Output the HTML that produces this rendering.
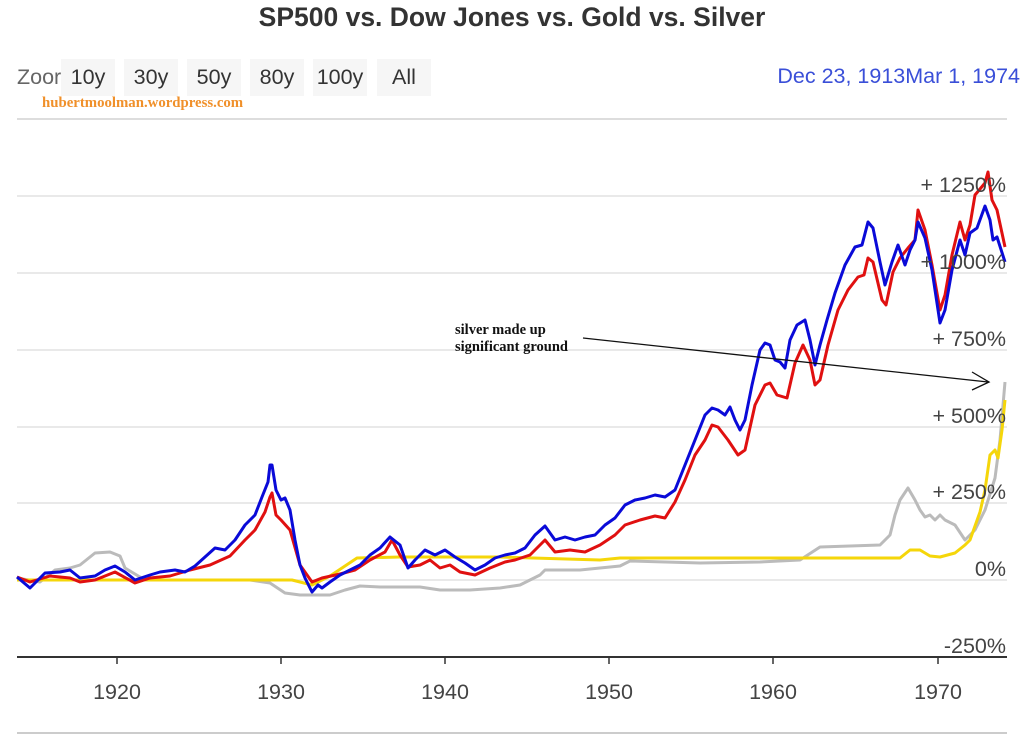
<!DOCTYPE html>
<html><head><meta charset="utf-8"><style>
html,body{margin:0;padding:0;background:#fff;width:1024px;height:735px;overflow:hidden}
</style></head><body>
<svg width="1024" height="735" xmlns="http://www.w3.org/2000/svg" font-family="Liberation Sans, sans-serif">
<rect width="1024" height="735" fill="#fff"/>
<text x="512" y="26" text-anchor="middle" font-size="26.5" font-weight="bold" fill="#333">SP500 vs. Dow Jones vs. Gold vs. Silver</text>
<text x="17" y="84" font-size="21.5" fill="#666">Zoor</text>
<rect x="61" y="59" width="54" height="37" fill="#f6f6f6"/>
<rect x="124" y="59" width="54" height="37" fill="#f6f6f6"/>
<rect x="187" y="59" width="54" height="37" fill="#f6f6f6"/>
<rect x="250" y="59" width="54" height="37" fill="#f6f6f6"/>
<rect x="313" y="59" width="54" height="37" fill="#f6f6f6"/>
<rect x="377" y="59" width="54" height="37" fill="#f6f6f6"/>
<g font-size="21.5" fill="#333" text-anchor="middle">
<text x="88" y="84">10y</text><text x="151" y="84">30y</text><text x="214" y="84">50y</text>
<text x="277" y="84">80y</text><text x="340" y="84">100y</text><text x="404" y="84">All</text>
</g>
<text x="42" y="107" font-size="14.8" font-weight="bold" fill="#f0902a" font-family="Liberation Serif, serif">hubertmoolman.wordpress.com</text>
<text x="1020" y="83" text-anchor="end" font-size="21.5" fill="#3a4fd8">Dec 23, 1913Mar 1, 1974</text>
<line x1="17" y1="119" x2="1007" y2="119" stroke="#ddd" stroke-width="2"/>
<g stroke="#e2e2e2" stroke-width="1.5">
<line x1="17" y1="196" x2="1007" y2="196"/><line x1="17" y1="273" x2="1007" y2="273"/>
<line x1="17" y1="350" x2="1007" y2="350"/><line x1="17" y1="427" x2="1007" y2="427"/>
<line x1="17" y1="503" x2="1007" y2="503"/><line x1="17" y1="580" x2="1007" y2="580"/>
</g>
<line x1="17" y1="657" x2="1007" y2="657" stroke="#333" stroke-width="2"/>
<line x1="17" y1="733" x2="1007" y2="733" stroke="#ccc" stroke-width="2"/>
<g stroke="#333" stroke-width="1.5">
<line x1="117" y1="657" x2="117" y2="664"/><line x1="281" y1="657" x2="281" y2="664"/>
<line x1="445" y1="657" x2="445" y2="664"/><line x1="609" y1="657" x2="609" y2="664"/>
<line x1="773" y1="657" x2="773" y2="664"/><line x1="938" y1="657" x2="938" y2="664"/>
</g>
<g font-size="21.5" fill="#444" text-anchor="middle">
<text x="117" y="699">1920</text><text x="281" y="699">1930</text><text x="445" y="699">1940</text>
<text x="609" y="699">1950</text><text x="773" y="699">1960</text><text x="938" y="699">1970</text>
</g>
<g fill="none" stroke-width="3" stroke-linejoin="round">
<polyline stroke="#bbb" points="17,578 40,582 55,570 70,568 80,565 95,553 110,552 120,556 125,568 145,580 230,580 250,580 270,583 285,593 300,595 330,595 345,590 360,586 380,587 420,587 440,590 470,590 500,588 520,585 540,575 545,570 580,570 620,566 630,561 700,563 760,562 800,560 820,547 880,545 890,535 895,515 900,500 908,488 915,500 920,510 925,517 930,515 935,520 940,515 945,520 955,525 965,540 975,530 985,510 995,478 1000,440 1005,382"/>
<polyline stroke="#f5d60a" points="17,580 280,580 292,580 312,585 330,576 357,558 400,557 500,557 600,560 620,558 900,558 910,550 920,550 930,556 940,557 955,553 965,545 970,540 975,526 980,512 985,490 990,455 995,450 998,458 1002,430 1005,400"/>
<polyline stroke="#e01010" points="17,577 30,582 50,576 70,578 80,582 95,580 115,572 135,583 150,578 170,576 190,570 210,565 230,556 245,540 255,530 265,512 270,497 272,493 276,515 281,520 290,530 300,565 312,582 322,578 340,574 355,570 370,560 385,552 392,540 400,555 408,567 420,565 430,560 440,568 450,565 460,572 475,575 490,568 505,562 515,560 530,555 545,540 555,552 570,550 585,552 600,545 615,535 625,525 640,520 655,516 665,518 675,502 685,480 695,455 705,440 712,425 718,427 728,440 738,455 745,450 755,405 765,385 770,383 777,395 787,398 795,363 803,345 810,360 815,385 820,380 828,345 838,310 848,290 858,277 864,275 868,258 873,262 882,300 886,305 893,272 900,258 908,248 915,240 918,210 925,230 932,265 940,310 945,295 952,255 960,222 965,240 970,225 975,195 985,183 988,172 992,200 997,210 1005,247"/>
<polyline stroke="#0a0ad8" points="17,577 30,588 45,573 60,572 70,570 80,578 95,576 105,570 115,566 125,572 135,580 150,575 160,572 175,570 185,572 195,566 205,557 215,548 225,550 235,540 245,525 255,515 262,497 268,482 270,465 272,465 276,490 281,500 285,498 290,510 295,540 300,565 305,578 312,592 318,585 322,588 330,582 340,575 350,570 360,565 370,555 380,548 390,537 400,545 408,568 415,560 425,550 435,555 445,550 455,557 465,563 475,570 485,565 495,558 505,555 515,553 525,548 535,535 545,526 555,540 565,537 575,540 585,537 595,535 605,525 615,518 625,505 635,500 645,498 655,495 665,497 675,490 685,465 695,440 705,415 712,408 718,410 725,415 730,407 735,420 740,430 745,420 752,385 760,350 765,343 770,345 775,360 780,362 785,368 790,340 797,325 805,320 810,340 815,365 820,345 827,320 835,293 845,265 855,247 862,245 868,222 873,228 880,262 885,285 892,262 898,245 905,265 910,250 915,240 918,222 925,238 932,270 940,323 945,310 952,270 960,240 965,255 970,233 977,228 985,206 990,220 993,240 997,237 1005,262"/>
</g>
<g font-size="21.5" fill="#444" text-anchor="end">
<text x="1006" y="192">+ 1250%</text><text x="1006" y="269">+ 1000%</text>
<text x="1006" y="346">+ 750%</text><text x="1006" y="423">+ 500%</text>
<text x="1006" y="499">+ 250%</text><text x="1006" y="576">0%</text>
<text x="1006" y="653">-250%</text>
</g>
<g font-family="Liberation Serif, serif" font-weight="bold" font-size="14.5" fill="#111">
<text x="455" y="334">silver made up</text><text x="455" y="351">significant ground</text>
</g>
<line x1="583" y1="338" x2="988" y2="382" stroke="#111" stroke-width="1.3"/>
<polyline points="972,372 989,382 972,390" fill="none" stroke="#111" stroke-width="1.3"/>
</svg>
</body></html>
